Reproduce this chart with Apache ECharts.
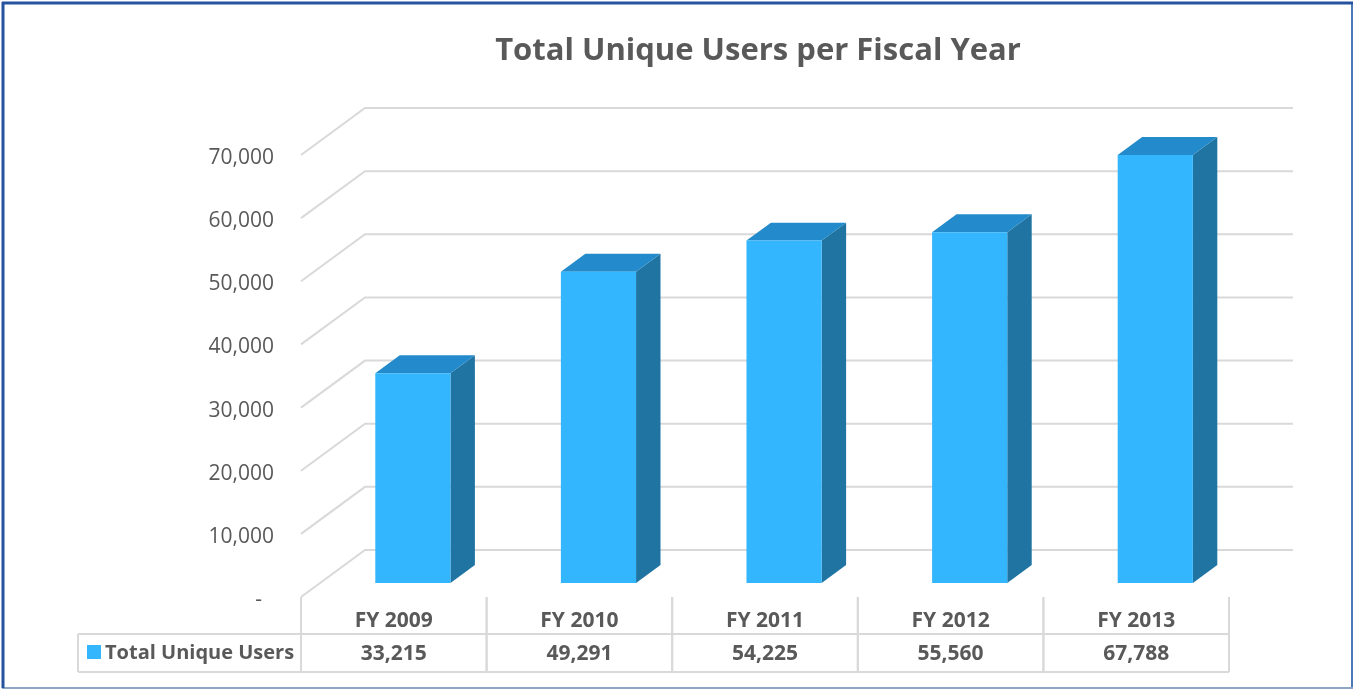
<!DOCTYPE html>
<html>
<head>
<meta charset="utf-8">
<script src="https://cdn.jsdelivr.net/npm/echarts@6/dist/echarts.min.js"></script>
<style>
  html, body { margin: 0; padding: 0; background: #ffffff; }
  #chart { width: 1355px; height: 690px; }
</style>
</head>
<body>
<div id="chart"></div>
<script>
// Fiscal years and total unique users per year
const categories = ['FY 2009', 'FY 2010', 'FY 2011', 'FY 2012', 'FY 2013'];
const totalUniqueUsers = [33215, 49291, 54225, 55560, 67788];
const seriesName = 'Total Unique Users';
const yTicks = [0, 10000, 20000, 30000, 40000, 50000, 60000, 70000];

// Oblique depth vector from the front plane to the back wall
const DEPTH_X = 64;
const DEPTH_Y = -47;
const BAR_FRONT = 0.298;   // bar front face, fraction of depth
const BAR_BACK = 0.68;     // bar back face, fraction of depth
const BAR_WIDTH = 0.405;   // fraction of a category band

const TEXT = '#595959';
const GRID_LINE = '#D9D9D9';
const FRONT = '#33B6FE';
const TOP = '#238BCB';
const SIDE = '#1F74A2';
const FONT = '"Open Sans", "DejaVu Sans", sans-serif';

// Table rows beneath the floor
const TABLE_TOP = 597;
const TABLE_MID = 634;
const TABLE_BOTTOM = 672;
const TABLE_LEFT = 78;

const fmt = v => v.toLocaleString('en-US');

const chart = echarts.init(document.getElementById('chart'));

function renderWallLine(params, api) {
  const cs = params.coordSys;
  const v = api.value(1);
  const y = api.coord([0, v])[1];
  const left = cs.x;
  const right = cs.x + cs.width;
  const style = { stroke: GRID_LINE, lineWidth: 2, fill: null };
  return {
    type: 'group',
    children: [
      { type: 'polyline', shape: { points: [[left, y], [left + DEPTH_X, y + DEPTH_Y], [right + DEPTH_X, y + DEPTH_Y]] }, style: style }
    ]
  };
}

function renderBar(params, api) {
  const i = api.value(0);
  const v = api.value(1);
  const top = api.coord([i, v]);
  const base = api.coord([i, 0]);
  const band = api.size([1, 0])[0];
  const half = band * BAR_WIDTH / 2;
  const fx = BAR_FRONT * DEPTH_X, fy = BAR_FRONT * DEPTH_Y;
  const bx = BAR_BACK * DEPTH_X, by = BAR_BACK * DEPTH_Y;
  const x0 = top[0] - half, x1 = top[0] + half;
  const yt = top[1], yb = base[1];

  const front = [[x0 + fx, yt + fy], [x1 + fx, yt + fy], [x1 + fx, yb + fy], [x0 + fx, yb + fy]];
  const side = [[x1 + fx, yt + fy], [x1 + bx, yt + by], [x1 + bx, yb + by], [x1 + fx, yb + fy]];
  const lid = [[x0 + fx, yt + fy], [x0 + bx, yt + by], [x1 + bx, yt + by], [x1 + fx, yt + fy]];

  const cl = top[0] - band / 2, cr = top[0] + band / 2;
  const line = { stroke: GRID_LINE, lineWidth: 2 };
  return {
    type: 'group',
    children: [
      { type: 'polygon', shape: { points: side }, style: { fill: SIDE } },
      { type: 'polygon', shape: { points: lid }, style: { fill: TOP } },
      { type: 'polygon', shape: { points: front }, style: { fill: FRONT } },
      // table cell borders for this year
      { type: 'line', shape: { x1: cl, y1: TABLE_TOP, x2: cl, y2: TABLE_BOTTOM }, style: line },
      { type: 'line', shape: { x1: cr, y1: TABLE_TOP, x2: cr, y2: TABLE_BOTTOM }, style: line },
      { type: 'line', shape: { x1: cl, y1: TABLE_MID, x2: cr, y2: TABLE_MID }, style: line },
      { type: 'line', shape: { x1: cl, y1: TABLE_BOTTOM, x2: cr, y2: TABLE_BOTTOM }, style: line },
      {
        type: 'text',
        style: {
          text: fmt(v), x: top[0], y: 654, align: 'center', verticalAlign: 'middle',
          fill: TEXT, font: 'bold 21px ' + FONT
        }
      }
    ]
  };
}

const option = {
  backgroundColor: '#ffffff',
  animation: false,
  grid: { left: 301, right: 126, top: 155, bottom: 93 },
  xAxis: {
    type: 'category',
    data: categories,
    axisLine: { show: false },
    axisTick: { show: false },
    axisLabel: { margin: 14, fontFamily: FONT, fontWeight: 'bold', fontSize: 21, color: TEXT },
    splitLine: { show: false }
  },
  yAxis: {
    type: 'value',
    min: 0,
    max: 70000,
    interval: 10000,
    axisLine: { show: false },
    axisTick: { show: false },
    splitLine: { show: false },
    axisLabel: {
      margin: 27,
      fontFamily: FONT,
      fontSize: 21,
      color: TEXT,
      padding: [6, 0, 0, 0],
      formatter: v => v === 0 ? '{z|-}' : fmt(v),
      rich: { z: { fontFamily: FONT, fontSize: 21, color: TEXT, padding: [0, 12, 0, 0] } }
    }
  },
  series: [
    {
      type: 'custom',
      name: 'walls',
      z: 1,
      silent: true,
      renderItem: renderWallLine,
      data: yTicks.map(v => [0, v])
    },
    {
      type: 'custom',
      name: seriesName,
      z: 2,
      renderItem: renderBar,
      data: totalUniqueUsers.map((v, i) => [i, v])
    }
  ],
  graphic: [
    // chart title
    {
      type: 'text',
      style: {
        text: 'Total Unique Users per Fiscal Year', x: 758, y: 51, align: 'center', verticalAlign: 'middle',
        fill: TEXT, font: 'bold 31px ' + FONT
      }
    },
    // legend cell of the data table
    { type: 'line', shape: { x1: TABLE_LEFT, y1: TABLE_MID, x2: 301, y2: TABLE_MID }, style: { stroke: GRID_LINE, lineWidth: 2 } },
    { type: 'line', shape: { x1: TABLE_LEFT, y1: TABLE_BOTTOM, x2: 301, y2: TABLE_BOTTOM }, style: { stroke: GRID_LINE, lineWidth: 2 } },
    { type: 'line', shape: { x1: TABLE_LEFT, y1: TABLE_MID, x2: TABLE_LEFT, y2: TABLE_BOTTOM }, style: { stroke: GRID_LINE, lineWidth: 2 } },
    { type: 'rect', shape: { x: 87, y: 645, width: 14, height: 14 }, style: { fill: FRONT } },
    { type: 'text', style: { text: seriesName, x: 105, y: 653, verticalAlign: 'middle', fill: TEXT, font: 'bold 20px ' + FONT } },
    // frame
    { type: 'line', shape: { x1: 1352, y1: 2, x2: 1352, y2: 688 }, style: { stroke: '#4D79B6', lineWidth: 2 } },
    { type: 'line', shape: { x1: 2, y1: 688, x2: 1353, y2: 688 }, style: { stroke: '#8EA6C6', lineWidth: 2 } },
    { type: 'line', shape: { x1: 3, y1: 2, x2: 3, y2: 688 }, style: { stroke: '#2553A0', lineWidth: 3 } },
    { type: 'line', shape: { x1: 2, y1: 3, x2: 1353, y2: 3 }, style: { stroke: '#2553A0', lineWidth: 3 } }
  ]
};

chart.setOption(option);
</script>
</body>
</html>
